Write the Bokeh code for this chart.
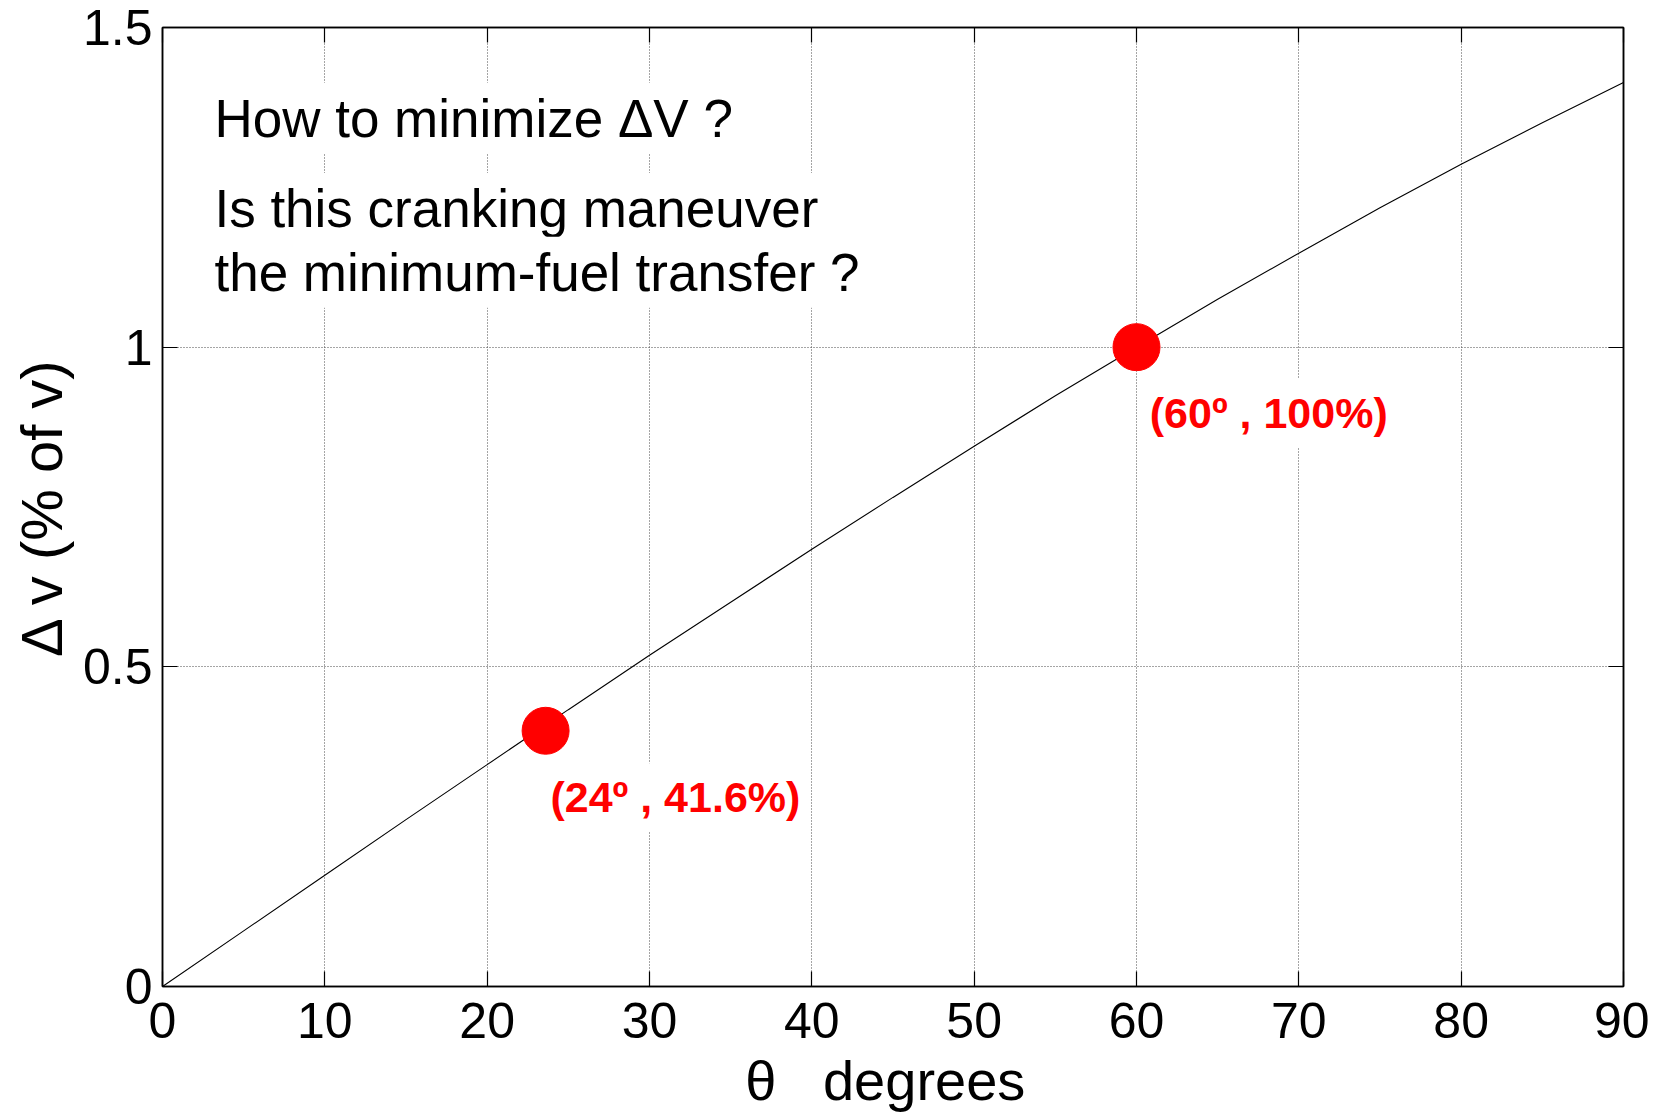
from bokeh.plotting import figure
from bokeh.models import Label, LinearAxis, Range1d, FixedTicker
from bokeh.embed import file_html
from bokeh.resources import INLINE

# ---- data ----
theta_deg = [0, 5, 10, 15, 20, 25, 30, 35, 40, 45, 50, 55, 60, 65, 70, 75, 80, 85, 90]
delta_v = [0.0, 0.087, 0.174, 0.261, 0.347, 0.433, 0.518, 0.601, 0.684, 0.765,
           0.845, 0.924, 1.0, 1.075, 1.147, 1.218, 1.286, 1.351, 1.414]

point_theta = [23.6, 60.0]
point_dv = [0.40, 1.0]
point_labels = ["(24º , 41.6%)", "(60º , 100%)"]

x_ticks = [0, 10, 20, 30, 40, 50, 60, 70, 80, 90]
y_ticks = [0.0, 0.5, 1.0, 1.5]
y_tick_labels = ["0", "0.5", "1", "1.5"]

question_lines = ["How to minimize ΔV ?", "Is this cranking maneuver", "the minimum-fuel transfer ?"]
y_title = "Δ v (% of v)"
x_title = "θ\u00a0\u00a0\u00a0degrees\u00a0"

FONT = "Liberation Sans"

p = figure(width=1649, height=1115,
           x_range=Range1d(0, 90), y_range=Range1d(0, 1.5),
           output_backend="svg", toolbar_location=None,
           min_border_left=162, min_border_right=26,
           min_border_top=27, min_border_bottom=129)

p.outline_line_color = "black"
p.outline_line_width = 1.5
p.background_fill_color = "white"

# main axes
xa = p.xaxis[0]
ya = p.yaxis[0]
xa.ticker = FixedTicker(ticks=x_ticks)
ya.ticker = FixedTicker(ticks=y_ticks)
ya.major_label_overrides = dict(zip(y_ticks, y_tick_labels))
for ax in (xa, ya):
    ax.major_tick_in = 15
    ax.major_tick_out = 0
    ax.minor_tick_line_color = None
    ax.major_tick_line_color = "black"
    ax.major_tick_line_width = 1.2
    ax.axis_line_color = "black"
    ax.axis_line_width = 1.5
    ax.major_label_text_font = FONT
    ax.major_label_text_font_size = "50px"
    ax.major_label_text_color = "black"
    ax.axis_label_text_font = FONT
    ax.axis_label_text_font_style = "normal"
    ax.axis_label_text_color = "black"
xa.major_label_standoff = 16
ya.major_label_standoff = 10
ya.axis_label = y_title
ya.axis_label_text_font_size = "58px"
ya.axis_label_standoff = 6
xa.axis_label = x_title
xa.axis_label_text_font_size = "56px"
xa.axis_label_standoff = 8

# mirrored box ticks on top and right
top_ax = LinearAxis(ticker=FixedTicker(ticks=x_ticks))
right_ax = LinearAxis(ticker=FixedTicker(ticks=y_ticks))
for ax in (top_ax, right_ax):
    ax.major_tick_in = 15
    ax.major_tick_out = 0
    ax.minor_tick_line_color = None
    ax.major_tick_line_color = "black"
    ax.major_tick_line_width = 1.2
    ax.major_label_text_font_size = "0px"
    ax.major_label_text_alpha = 0
    ax.major_label_standoff = 0
    ax.axis_line_color = "black"
    ax.axis_line_width = 1.5
p.add_layout(top_ax, "above")
p.add_layout(right_ax, "right")

# grid
p.xgrid.ticker = FixedTicker(ticks=x_ticks)
p.ygrid.ticker = FixedTicker(ticks=y_ticks)
for g in (p.xgrid[0], p.ygrid[0]):
    g.grid_line_color = "#4a4a4a"
    g.grid_line_dash = "1 2"
    g.grid_line_width = 1

# curve and points
p.line(theta_deg, delta_v, line_color="black", line_width=1.1)
p.scatter(point_theta, point_dv, size=47, fill_color="#ff0000", line_color="#ff0000", marker="circle")

# question text (white boxes hide the grid)
q_x = [2.83, 2.83, 2.83]
q_y = [1.358, 1.217, 1.117]
for t, xx, yy in zip(question_lines, q_x, q_y):
    p.add_layout(Label(x=xx, y=yy, text=t, text_font=FONT, text_font_size="53px",
                       text_color="black", text_baseline="middle", text_align="left",
                       background_fill_color="white", padding=6))

# red point labels
lab_x = [23.28, 60.2]
lab_y = [0.296, 0.897]
for t, xx, yy in zip(point_labels, lab_x, lab_y):
    p.add_layout(Label(x=xx, y=yy, text=t, text_font=FONT, text_font_size="43px",
                       text_font_style="bold", text_color="#ff0000",
                       text_baseline="middle", text_align="left",
                       background_fill_color="white", padding=10))

open("out.html", "w").write(file_html(p, INLINE))
